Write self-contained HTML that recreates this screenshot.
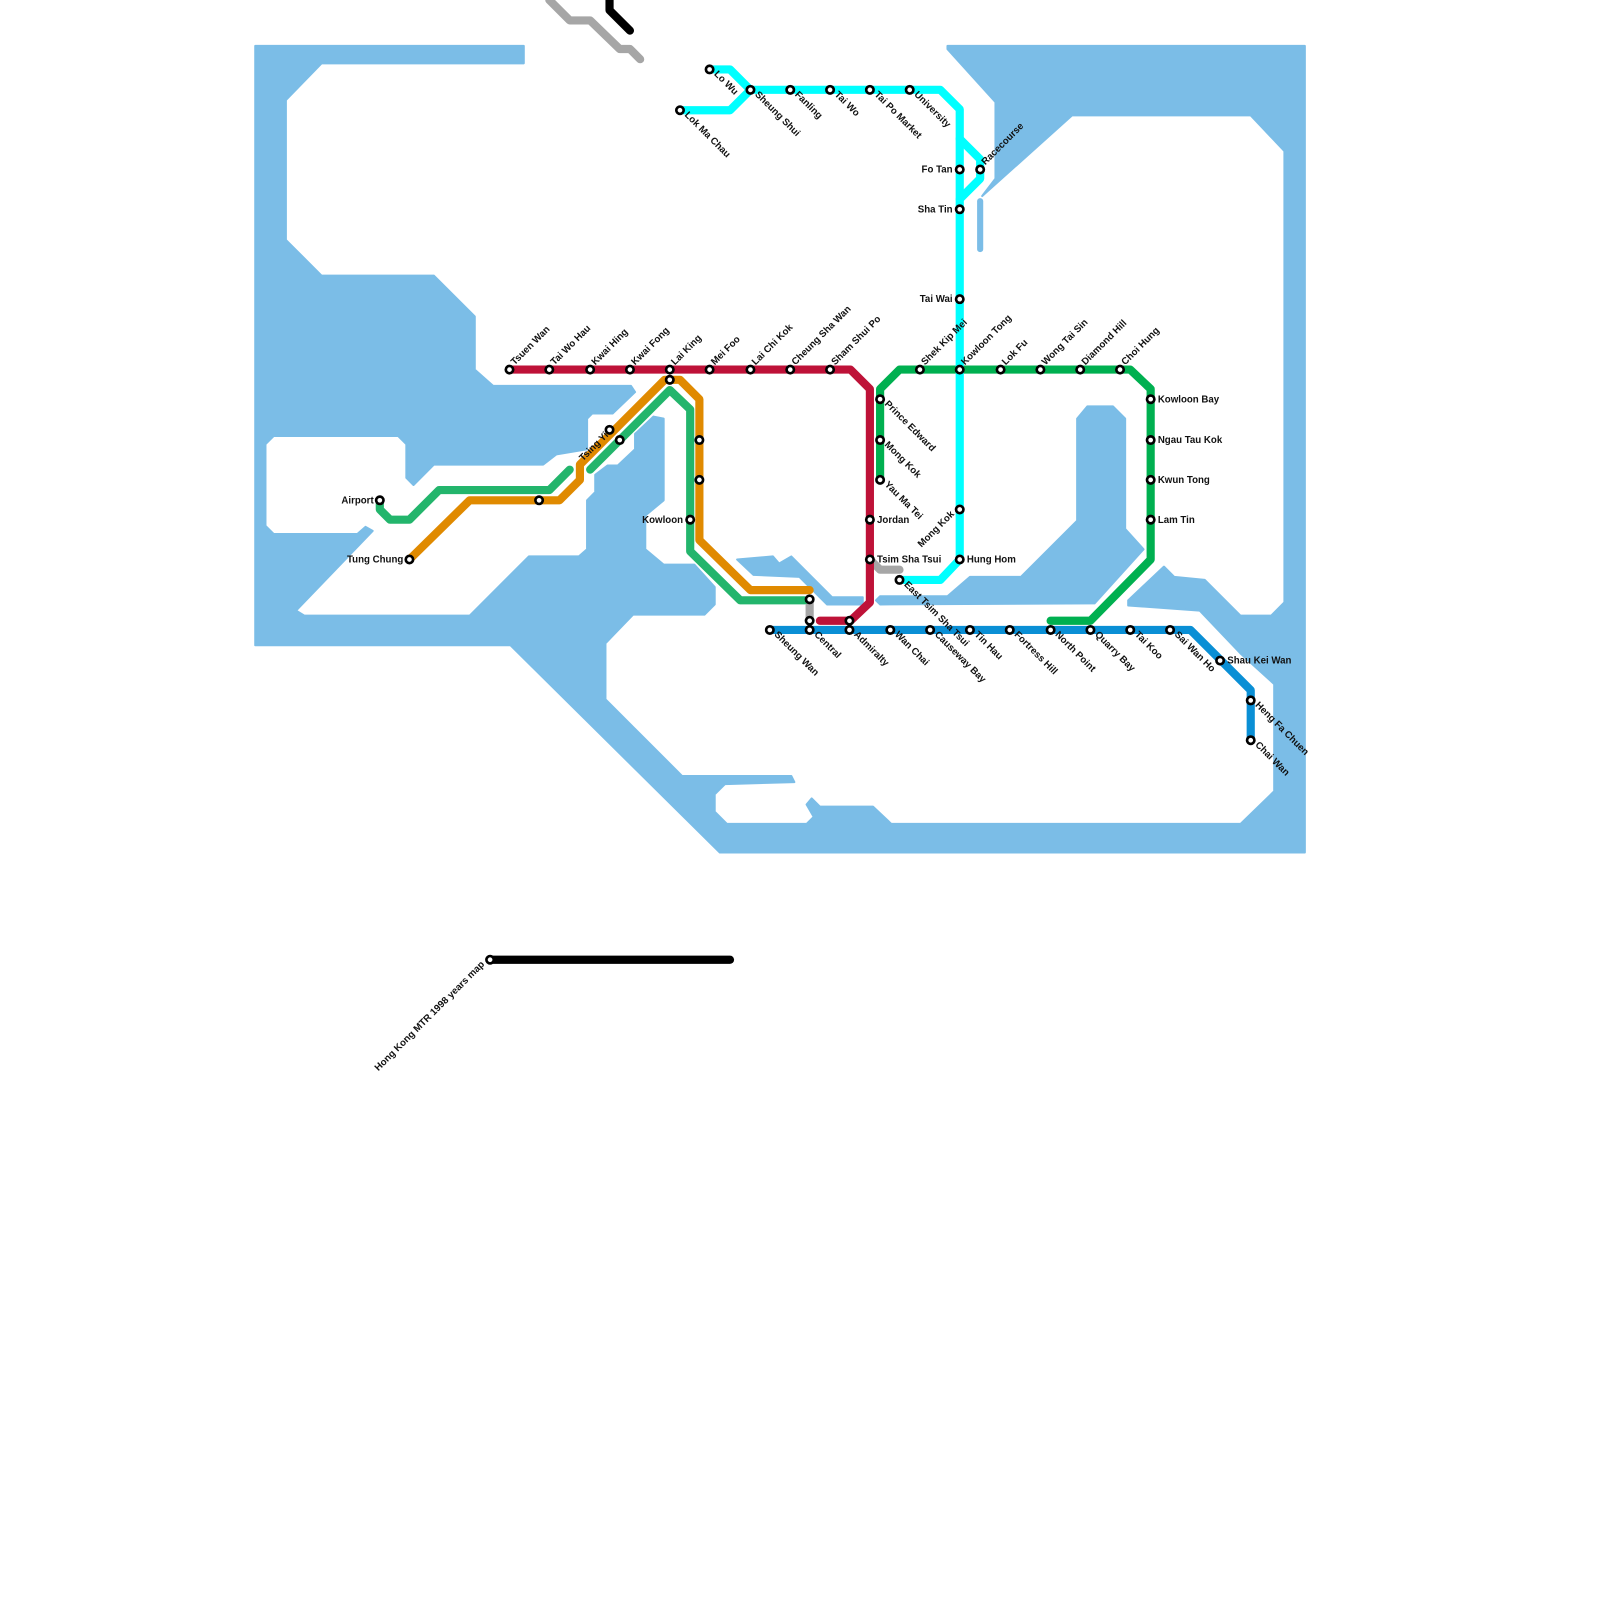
<!DOCTYPE html>
<html><head><meta charset="utf-8"><style>
html,body{margin:0;padding:0;background:#fff}
svg{display:block}
text{font-family:"Liberation Sans",Arial,sans-serif;font-size:9.5px;font-weight:bold;fill:#111}
.l{fill:none;stroke-linejoin:round;stroke-linecap:round;stroke-width:8}
circle{fill:#fff;stroke:#000;stroke-width:2.6}
</style></head><body>
<svg width="1600" height="1600" viewBox="0 0 1600 1600" xmlns="http://www.w3.org/2000/svg">
<g transform="scale(1.021)">
<g fill="#7BBDE7" stroke="#7BBDE7" stroke-width="2" stroke-linejoin="round">
<polygon points="250,45 513,45 513,62 315,62 280,98 280,235 315,270 425,270 465,310 465,362 483,378 618,378 622,384 600,405 580,405 575,410 575,440 545,445 532,455 425,455 405,475 398,468 398,435 390,427 268,427 260,435 260,515 268,523 350,523 358,516 365,520 290,598 298,603 460,603 518,545 567,545 575,538 575,490 583,482 583,465 595,456 605,456 622,440 622,425 640,408 650,410 650,490 632,505 632,538 650,553 680,553 700,575 700,592 690,602 620,602 593,630 593,685 668,760 775,760 778,766 710,768 700,778 700,795 712,807 790,807 797,800 790,788 795,782 803,790 855,790 873,807 1215,807 1248,775 1248,670 1215,640 1175,598 1105,593 1105,588 1140,555 1150,565 1180,568 1215,603 1245,603 1258,590 1258,148 1225,113 1050,113 962,192 975,175 975,100 928,48 928,45 1278,45 1278,835 705,835 500,632 250,632"/>
<polygon points="1055,410 1065,398 1090,398 1102,410 1102,518 1120,538 1072,591 862,592 858,588 862,584 928,584 950,565 1000,565 1055,510"/>
<polygon points="722,548 757,545 763,552 775,545 815,585 845,585 845,592 810,592 783,565 738,563"/>
</g>
<line x1="960" y1="197" x2="960" y2="244" stroke="#7BBDE7" stroke-width="6" stroke-linecap="round"/>

<polyline class="l" stroke="#A6A6A6" points="538,0 558,20 578,20 607,48 617,48 627,58"/>
<polyline class="l" stroke="#000" points="597,0 597,10 617,30"/>
<polyline class="l" stroke="#A6A6A6" points="852,548 862,558 881,558"/>
<polyline class="l" stroke="#A6A6A6" points="793,587 793,608"/>
<polyline class="l" stroke="#23B56C" points="372,490 372,499 382,509 401,509 430,480 538,480 558,460"/>
<polyline class="l" stroke="#23B56C" points="578,460 656,382 676,401 676,540 725,588 788,588"/>
<polyline class="l" stroke="#E08A00" points="401,548 460,490 548,490 568,470 568,455 651,372 666,372 685,391 685,529 735,578 793,578"/>
<polyline class="l" stroke="#BE1238" points="499,362 833,362 852,381 852,590 833,608 803,608"/>
<polyline class="l" stroke="#00B050" points="862,470 862,381 881,362 1107,362 1127,381 1127,548 1068,608 1029,608"/>
<polyline class="l" stroke="#00FFFF" points="666,108 715,108 735,88"/>
<polyline class="l" stroke="#00FFFF" points="695,68 715,68 735,88 921,88 940,107 940,548 921,568 881,568"/>
<polyline class="l" stroke="#00FFFF" points="940,136 960,156 960,175 940,195"/>
<polyline class="l" stroke="#0A8FD5" points="754,617 1166,617 1225,676 1225,725"/>
<polyline class="l" stroke="#000" points="480,940 715,940"/>

<g>
<circle cx="499" cy="362" r="3.6"/><circle cx="538" cy="362" r="3.6"/><circle cx="578" cy="362" r="3.6"/><circle cx="617" cy="362" r="3.6"/><circle cx="656" cy="362" r="3.6"/><circle cx="695" cy="362" r="3.6"/><circle cx="735" cy="362" r="3.6"/><circle cx="774" cy="362" r="3.6"/><circle cx="813" cy="362" r="3.6"/>
<circle cx="656" cy="372" r="3.6"/>
<circle cx="852" cy="509" r="3.6"/><circle cx="852" cy="548" r="3.6"/>
<circle cx="862" cy="391" r="3.6"/><circle cx="862" cy="431" r="3.6"/><circle cx="862" cy="470" r="3.6"/>
<circle cx="901" cy="362" r="3.6"/><circle cx="940" cy="362" r="3.6"/><circle cx="980" cy="362" r="3.6"/><circle cx="1019" cy="362" r="3.6"/><circle cx="1058" cy="362" r="3.6"/><circle cx="1097" cy="362" r="3.6"/>
<circle cx="1127" cy="391" r="3.6"/><circle cx="1127" cy="431" r="3.6"/><circle cx="1127" cy="470" r="3.6"/><circle cx="1127" cy="509" r="3.6"/>
<circle cx="666" cy="108" r="3.6"/><circle cx="695" cy="68" r="3.6"/><circle cx="735" cy="88" r="3.6"/><circle cx="774" cy="88" r="3.6"/><circle cx="813" cy="88" r="3.6"/><circle cx="852" cy="88" r="3.6"/><circle cx="891" cy="88" r="3.6"/>
<circle cx="940" cy="166" r="3.6"/><circle cx="960" cy="166" r="3.6"/><circle cx="940" cy="205" r="3.6"/><circle cx="940" cy="293" r="3.6"/><circle cx="940" cy="499" r="3.6"/><circle cx="940" cy="548" r="3.6"/><circle cx="881" cy="568" r="3.6"/>
<circle cx="754" cy="617" r="3.6"/><circle cx="793" cy="617" r="3.6"/><circle cx="832" cy="617" r="3.6"/><circle cx="872" cy="617" r="3.6"/><circle cx="911" cy="617" r="3.6"/><circle cx="950" cy="617" r="3.6"/><circle cx="989" cy="617" r="3.6"/><circle cx="1029" cy="617" r="3.6"/><circle cx="1068" cy="617" r="3.6"/><circle cx="1107" cy="617" r="3.6"/><circle cx="1146" cy="617" r="3.6"/><circle cx="1195" cy="647" r="3.6"/><circle cx="1225" cy="686" r="3.6"/><circle cx="1225" cy="725" r="3.6"/>
<circle cx="793" cy="608" r="3.6"/><circle cx="832" cy="608" r="3.6"/><circle cx="793" cy="587" r="3.6"/>
<circle cx="372" cy="490" r="3.6"/><circle cx="401" cy="548" r="3.6"/><circle cx="528" cy="490" r="3.6"/><circle cx="597" cy="421" r="3.6"/><circle cx="607" cy="431" r="3.6"/><circle cx="685" cy="431" r="3.6"/><circle cx="685" cy="470" r="3.6"/><circle cx="676" cy="509" r="3.6"/>
<circle cx="480" cy="940" r="3.6"/>
</g>

<g>
<text transform="translate(504,358) rotate(-45)">Tsuen Wan</text>
<text transform="translate(543,358) rotate(-45)">Tai Wo Hau</text>
<text transform="translate(583,358) rotate(-45)">Kwai Hing</text>
<text transform="translate(622,358) rotate(-45)">Kwai Fong</text>
<text transform="translate(661,358) rotate(-45)">Lai King</text>
<text transform="translate(700,358) rotate(-45)">Mei Foo</text>
<text transform="translate(740,358) rotate(-45)">Lai Chi Kok</text>
<text transform="translate(779,358) rotate(-45)">Cheung Sha Wan</text>
<text transform="translate(818,358) rotate(-45)">Sham Shui Po</text>
<text transform="translate(906,358) rotate(-45)">Shek Kip Mei</text>
<text transform="translate(945,358) rotate(-45)">Kowloon Tong</text>
<text transform="translate(985,358) rotate(-45)">Lok Fu</text>
<text transform="translate(1024,358) rotate(-45)">Wong Tai Sin</text>
<text transform="translate(1063,358) rotate(-45)">Diamond Hill</text>
<text transform="translate(1102,358) rotate(-45)">Choi Hung</text>
<text transform="translate(965,162) rotate(-45)">Racecourse</text>
<text transform="translate(571,452) rotate(-45)">Tsing Yi</text>
<text transform="translate(866,396) rotate(45)">Prince Edward</text>
<text transform="translate(866,436) rotate(45)">Mong Kok</text>
<text transform="translate(866,475) rotate(45)">Yau Ma Tei</text>
<text transform="translate(670,113) rotate(45)">Lok Ma Chau</text>
<text transform="translate(699,73) rotate(45)">Lo Wu</text>
<text transform="translate(739,93) rotate(45)">Sheung Shui</text>
<text transform="translate(778,93) rotate(45)">Fanling</text>
<text transform="translate(817,93) rotate(45)">Tai Wo</text>
<text transform="translate(856,93) rotate(45)">Tai Po Market</text>
<text transform="translate(895,93) rotate(45)">University</text>
<text transform="translate(885,573) rotate(45)">East Tsim Sha Tsui</text>
<text transform="translate(758,622) rotate(45)">Sheung Wan</text>
<text transform="translate(797,622) rotate(45)">Central</text>
<text transform="translate(836,622) rotate(45)">Admiralty</text>
<text transform="translate(876,622) rotate(45)">Wan Chai</text>
<text transform="translate(915,622) rotate(45)">Causeway Bay</text>
<text transform="translate(954,622) rotate(45)">Tin Hau</text>
<text transform="translate(993,622) rotate(45)">Fortress Hill</text>
<text transform="translate(1033,622) rotate(45)">North Point</text>
<text transform="translate(1072,622) rotate(45)">Quarry Bay</text>
<text transform="translate(1111,622) rotate(45)">Tai Koo</text>
<text transform="translate(1150,622) rotate(45)">Sai Wan Ho</text>
<text transform="translate(1229,691) rotate(45)">Heng Fa Chuen</text>
<text transform="translate(1229,730) rotate(45)">Chai Wan</text>
<text x="859" y="512">Jordan</text>
<text x="859" y="551">Tsim Sha Tsui</text>
<text x="947" y="551">Hung Hom</text>
<text x="1134" y="394">Kowloon Bay</text>
<text x="1134" y="434">Ngau Tau Kok</text>
<text x="1134" y="473">Kwun Tong</text>
<text x="1134" y="512">Lam Tin</text>
<text x="1202" y="650">Shau Kei Wan</text>
<text x="933" y="169" text-anchor="end">Fo Tan</text>
<text x="933" y="208" text-anchor="end">Sha Tin</text>
<text x="933" y="296" text-anchor="end">Tai Wai</text>
<text x="366" y="493" text-anchor="end">Airport</text>
<text x="395" y="551" text-anchor="end">Tung Chung</text>
<text x="669" y="512" text-anchor="end">Kowloon</text>
<text transform="translate(935,504) rotate(-45)" text-anchor="end">Mong Kok</text>
<text transform="translate(475,945) rotate(-45)" text-anchor="end">Hong Kong MTR 1998 years map</text>
</g>
</g>
</svg>
</body></html>
